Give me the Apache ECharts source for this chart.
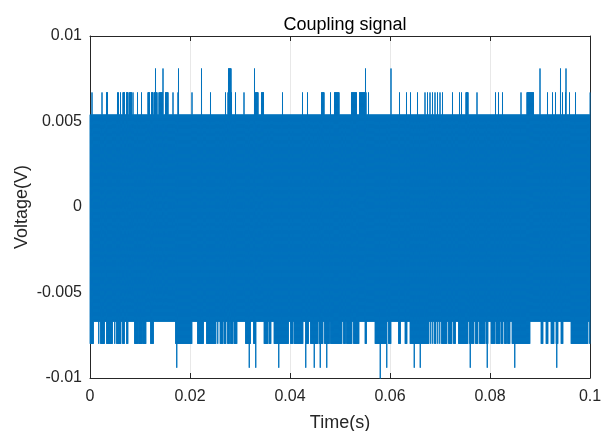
<!DOCTYPE html>
<html>
<head>
<meta charset="utf-8">
<script src="https://cdn.jsdelivr.net/npm/echarts@6/dist/echarts.min.js"></script>
<style>
  html, body { margin: 0; padding: 0; background: #fff; }
  #chart { width: 601px; height: 431px; }
</style>
</head>
<body>
<div id="chart"></div>
<script>
// axis ticks
const xTicks = [0, 0.02, 0.04, 0.06, 0.08, 0.1];
const yTicks = [-0.01, -0.005, 0, 0.005, 0.01];

// the signal is very dense: it fills a band between these two levels,
// with short excursions beyond it (times in s, single time or [start, end])
const bandTop = 0.0054;
const bandBottom = -0.0067;

const upperLevels = [0.0067, 0.0081];
const upperSpikes067 = [
  0.0004, 0.0024, [0.0033, 0.0035], 0.0055, 0.0057, 0.0061, [0.0066, 0.0069], [0.0073, 0.0076],
  [0.0079, 0.0083], 0.0086, 0.0095, 0.0103, [0.0116, 0.0119], [0.0123, 0.0126], [0.0129, 0.0133],
  0.0136, [0.0139, 0.0146], [0.0151, 0.0156], 0.0166, 0.0176, 0.0204, 0.0223, 0.0241,
  0.0271, [0.0276, 0.0283], 0.0291, 0.0308, [0.0331, 0.0336], [0.0343, 0.0347], 0.0385, 0.0425,
  0.0435, [0.0463, 0.0468], 0.0481, [0.0489, 0.0498],
  [0.0523, 0.0533], [0.0539, 0.0550], 0.0552, 0.0557, 0.0619, 0.0633, 0.0641, 0.0655, 0.0670,
  0.0675, 0.0680, 0.0685, 0.0690, 0.0695, 0.0700, 0.0705, 0.0725, 0.0739, 0.0743,
  [0.0752, 0.0756], 0.0774, 0.0811, 0.0817, 0.0825, 0.0862, [0.0874, 0.0887], 0.0915, 0.0925,
  0.0931, 0.0941, 0.0945, 0.0951, 0.0959, 0.0971, 0.1
];
const upperSpikes081 = [
  0.0131, 0.0146, 0.0177, 0.0223, [0.0277, 0.0282], 0.0329, 0.0551, 0.0602, 0.0900, 0.0941, 0.0952
];

const lowerLevels = [-0.0080, -0.0094, -0.0107];
const lowerSpikes080 = [
  [0, 0.0006], 0.0017, [0.0021, 0.0028], [0.0033, 0.0044], 0.0049, [0.0053, 0.0061],
  [0.0065, 0.0068], [0.0073, 0.0075], [0.0089, 0.0095], [0.0097, 0.0104], [0.0106, 0.0111],
  [0.0121, 0.0126], [0.0171, 0.0196], [0.0197, 0.0203], [0.0215, 0.0226], [0.0233, 0.0251],
  0.0255, [0.0260, 0.0265], [0.0268, 0.0271], [0.0275, 0.0278], [0.0281, 0.0285],
  [0.0288, 0.0293], [0.0311, 0.0320], [0.0327, 0.0331], [0.0348, 0.0355], [0.0358, 0.0361],
  [0.0368, 0.0396], [0.0401, 0.0405], [0.0408, 0.0425], [0.0431, 0.0436], [0.0441, 0.0455],
  [0.0458, 0.0465], [0.0469, 0.0478], [0.0481, 0.0503], [0.0507, 0.0510], [0.0513, 0.0519],
  [0.0520, 0.0523], [0.0527, 0.0537], [0.0550, 0.0552], [0.0570, 0.0593], [0.0597, 0.0601],
  [0.0617, 0.0620], [0.0630, 0.0633], [0.0640, 0.0677], 0.0681, 0.0685, [0.0689, 0.0691],
  0.0695, 0.0699, [0.0703, 0.0713], [0.0717, 0.0723], [0.0727, 0.0730], [0.0737, 0.0755],
  [0.0759, 0.0762], [0.0764, 0.0767], [0.0771, 0.0775], [0.0779, 0.0789], [0.0792, 0.0795],
  [0.0802, 0.0809], [0.0812, 0.0819], [0.0822, 0.0825], [0.0829, 0.0832], [0.0835, 0.0839],
  [0.0844, 0.0879], [0.0902, 0.0905], [0.0912, 0.0915], [0.0922, 0.0927], [0.0932, 0.0935],
  [0.0942, 0.0945], [0.0962, 0.0995], [0.0999, 0.1]
];
const lowerSpikes094 = [
  0.0173, 0.0318, 0.0331, 0.0377, 0.0431, 0.0448, 0.0460, 0.0473, 0.0593, 0.0648, 0.0660,
  0.0760, 0.0794, 0.0849, 0.0933
];
const lowerSpikes107 = [0.0580];

const step = 0.0001; // sample pair spacing (half a screen column)

function hit(list, t) {
  for (const s of list) {
    const a = Array.isArray(s) ? s[0] : s;
    const b = Array.isArray(s) ? s[1] : s;
    if (t >= a - step / 2 && t < b + step / 2) return true;
  }
  return false;
}

function buildSignal() {
  const up = [upperSpikes067, upperSpikes081];
  const lo = [lowerSpikes080, lowerSpikes094, lowerSpikes107];
  const data = [];
  const n = Math.round(0.1 / step);
  for (let i = 0; i <= n; i++) {
    const t = +(i * step).toFixed(6);
    let u = bandTop;
    up.forEach((list, k) => { if (hit(list, t)) u = Math.max(u, upperLevels[k]); });
    let l = bandBottom;
    lo.forEach((list, k) => { if (hit(list, t)) l = Math.min(l, lowerLevels[k]); });
    data.push([t, u]);
    if (i < n) data.push([+(t + step / 2).toFixed(6), l]);
  }
  return data;
}

const font = 'Liberation Sans, Arial, Helvetica, sans-serif';
const axisColor = '#262626';

const chart = echarts.init(document.getElementById('chart'));
chart.setOption({
  animation: false,
  backgroundColor: '#fff',
  title: {
    text: 'Coupling signal',
    left: 340,
    top: 11,
    textAlign: 'center',
    textStyle: { fontFamily: font, fontSize: 18, fontWeight: 'normal', color: '#000' }
  },
  grid: { left: 90, right: 11, top: 36, bottom: 53, outerBoundsMode: 'none', containLabel: false },
  xAxis: [{
    type: 'value',
    min: xTicks[0],
    max: xTicks[xTicks.length - 1],
    interval: 0.02,
    name: 'Time(s)',
    nameLocation: 'middle',
    nameGap: 36,
    nameMoveOverlap: false,
    nameTextStyle: { fontFamily: font, fontSize: 18, color: axisColor },
    axisLine: { onZero: false, lineStyle: { color: axisColor, width: 1 } },
    axisTick: { inside: true, length: 5, lineStyle: { color: axisColor } },
    axisLabel: {
      fontFamily: font, fontSize: 16, color: axisColor, margin: 11,
      formatter: v => String(+v.toFixed(2))
    },
    splitLine: { show: true, lineStyle: { color: '#e8e8e8', width: 1 } }
  }, {
    type: 'value',
    position: 'top',
    min: xTicks[0],
    max: xTicks[xTicks.length - 1],
    interval: 0.02,
    axisLine: { onZero: false, lineStyle: { color: axisColor, width: 1 } },
    axisTick: { inside: true, length: 5, lineStyle: { color: axisColor } },
    axisLabel: { show: false },
    splitLine: { show: false }
  }],
  yAxis: [{
    type: 'value',
    min: yTicks[0],
    max: yTicks[yTicks.length - 1],
    interval: 0.005,
    name: 'Voltage(V)',
    nameLocation: 'middle',
    nameGap: 59,
    nameMoveOverlap: false,
    nameTextStyle: { fontFamily: font, fontSize: 18, color: axisColor },
    axisLine: { show: true, onZero: false, lineStyle: { color: axisColor, width: 1 } },
    axisTick: { show: true, inside: true, length: 5, lineStyle: { color: axisColor } },
    axisLabel: {
      fontFamily: font, fontSize: 16, color: axisColor, margin: 8,
      formatter: v => String(+v.toFixed(3))
    },
    splitLine: { show: true, lineStyle: { color: '#e8e8e8', width: 1 } }
  }, {
    type: 'value',
    position: 'right',
    min: yTicks[0],
    max: yTicks[yTicks.length - 1],
    interval: 0.005,
    axisLine: { show: true, onZero: false, lineStyle: { color: axisColor, width: 1 } },
    axisTick: { show: true, inside: true, length: 5, lineStyle: { color: axisColor } },
    axisLabel: { show: false },
    splitLine: { show: false }
  }],
  series: [{
    type: 'line',
    name: 'Coupling signal',
    data: buildSignal(),
    showSymbol: false,
    symbol: 'none',
    clip: true,
    lineStyle: { color: '#0072BD', width: 1 },
    itemStyle: { color: '#0072BD' },
    z: 1
  }]
});
</script>
</body>
</html>
